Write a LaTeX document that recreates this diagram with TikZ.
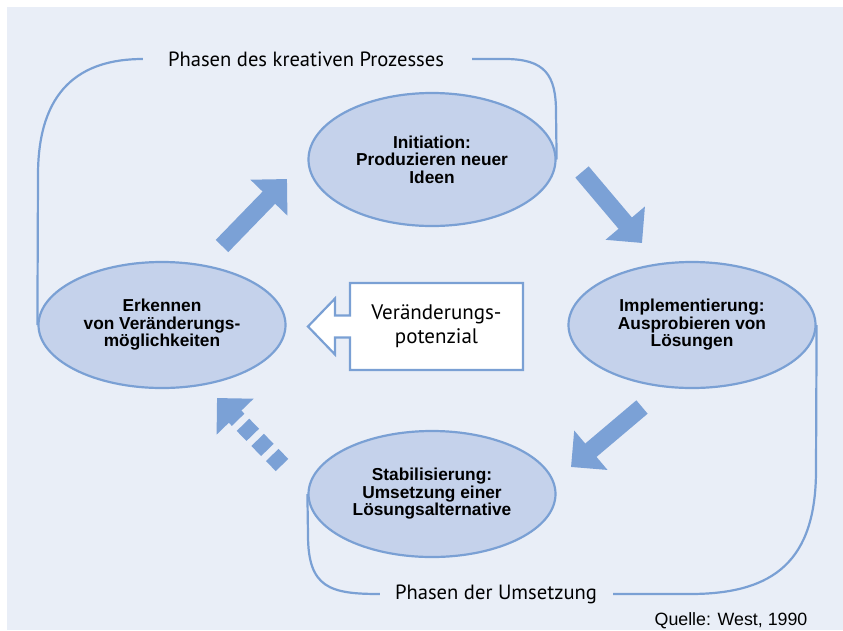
\documentclass[tikz,border=0pt]{standalone}
\usepackage{fontspec}
\setmainfont{Liberation Sans}
\newfontfamily\myriad{PT Sans}
\usetikzlibrary{arrows.meta,shapes.geometric}
\definecolor{bgblue}{RGB}{233,238,247}
\definecolor{ellblue}{RGB}{197,210,235}
\definecolor{lineblue}{RGB}{122,160,212}
\definecolor{arrowblue}{RGB}{123,161,214}

\begin{document}
\begin{tikzpicture}
	[x=1pt,y=-1pt,
	phase/.style={ellipse,draw=lineblue,fill=ellblue,line width=2.2pt,inner sep=0pt,
		minimum width=247pt,minimum height=126pt,align=center,
		font=\fontsize{17.3}{17.5}\selectfont\bfseries},
	bracket/.style={draw=lineblue,line width=2.2pt},
	flow/.style={draw=arrowblue,line width=17.5pt,-{Triangle[length=26pt,width=50pt]}},
	phasename/.style={font=\myriad\fontsize{20.6}{22}\selectfont,inner sep=0pt},]
	\useasboundingbox (0,0) rectangle (843,630);
	\fill[bgblue] (7,7) rectangle (843,630);

	\node[phase,minimum height=133pt] (T) at (432,159.5) {Initiation:\\Produzieren neuer\\Ideen};
	\node[phase] (L) at (162,325) {Erkennen\\von Veränderungs-\\möglichkeiten};
	\node[phase] (R) at (692,325) {Implementierung:\\Ausprobieren von\\Lösungen};
	\node[phase] (B) at (432,494) {Stabilisierung:\\Umsetzung einer\\Lösungsalternative};

	\node[phasename] (pk) at (306,59) {Phasen des kreativen Prozesses};
	\node[phasename] (pu) at (496,594) {Phasen der Umsetzung};
	\node[font=\fontsize{17.8}{18}\selectfont,inner sep=0pt] (src) at (731,621) {Quelle: West, 1990};

	\draw[bracket] (L.west) -- (38,175) .. controls (38,90) and (80,59) .. ([xshift=-25pt]pk.west);
	\draw[bracket] ([xshift=28pt]pk.east) -- (505,59) .. controls (545,59) and (556,75) .. (556,112) -- (T.east);
	\draw[bracket] (B.west) -- (308,535) .. controls (308,588) and (330,594) .. ([xshift=-15pt]pu.west);
	\draw[bracket] ([xshift=16pt]pu.east) -- (690,594) .. controls (775,594) and (816,560) .. (816,470) -- (R.east);

	\coordinate (a1s) at (222,246);
	\coordinate (a1e) at (287,179);
	\coordinate (a2s) at (582,172);
	\coordinate (a2e) at (642,243);
	\coordinate (a3s) at (642,407);
	\coordinate (a3e) at (571,467);
	\coordinate (a4s) at (282,465);
	\coordinate (a4e) at (217,398);
	\draw[flow] (a1s) -- (a1e);
	\draw[flow] (a2s) -- (a2e);
	\draw[flow] (a3s) -- (a3e);
	\draw[flow,dash pattern=on 14pt off 7pt] (a4s) -- (a4e);

	\coordinate (pc) at (436.5,326.5);
	\draw[draw=lineblue,fill=white,line width=2.2pt] (pc) ++(86.5,-43.5) -- ++(-173,0) -- ++(0,32.5)
		-- ++(-15,0) -- ++(0,-17) -- ++(-27,28) -- ++(27,28) -- ++(0,-17) -- ++(15,0)
		-- ++(0,32.5) -- ++(173,0) -- cycle;
	\node[font=\myriad\fontsize{21}{24}\selectfont,align=center] (pot) at (pc) {Veränderungs-\\potenzial};
\end{tikzpicture}
\end{document}
